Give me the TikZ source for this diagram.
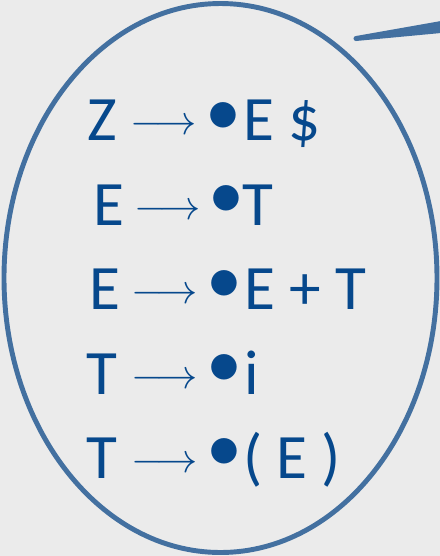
\RequirePackage{fix-cm}
\documentclass[tikz,border=0pt]{standalone}
\usepackage{fontspec}
\setmainfont{Carlito}
\usepackage{tikz}
\definecolor{bggray}{RGB}{235,235,235}
\definecolor{rimblue}{RGB}{67,112,160}
\definecolor{inkblue}{RGB}{6,72,140}
\tikzset{
  sym/.style={anchor=base west,inner sep=0pt,text=inkblue,font=\fontsize{36}{36}\selectfont},
  arw/.style={anchor=base west,inner sep=0pt,text=inkblue,font=\fontsize{23.5}{23.5}\selectfont},
  itemdot/.style={inner sep=0pt,text=inkblue,font=\fontsize{41}{41}\selectfont},
  rim/.style={draw=rimblue,line width=2.8pt}
}

\begin{document}
\begin{tikzpicture}[x=0.02cm,y=-0.02cm]
\fill[bggray] (0,0) rectangle (440,556);
\useasboundingbox (0,0) rectangle (440,556);
% the bubble and its tail
\draw[rim] (220.5,278) ellipse [x radius=216.5, y radius=274.5];
\fill[rimblue] (356,36) -- (441,21) -- (441,33) -- (356,41) -- cycle;
\fill[rimblue] (356,38.5) circle [radius=2.5];
% items
\node[sym] (l1) at (87,140) {Z};   \node[arw] (a1) at (130,134) {$\longrightarrow$};
\node[itemdot] (d1) at (223,119.5) {•}; \node[sym] (r1) at (243,140) {E \$};
\node[sym] (l2) at (93,225) {E};   \node[arw] (a2) at (134,219) {$\longrightarrow$};
\node[itemdot] (d2) at (226,202.5) {•}; \node[sym] (r2) at (242,225) {T};
\node[sym] (l3) at (89,309) {E};   \node[arw] (a3) at (131,303) {$\longrightarrow$};
\node[itemdot] (d3) at (224,287.5) {•}; \node[sym] (r3) at (244,309) {E + T};
\node[sym] (l4) at (86,394) {T};   \node[arw] (a4) at (131,388) {$\longrightarrow$};
\node[itemdot] (d4) at (224,371.5) {•}; \node[sym] (r4) at (244,394) {i};
\node[sym] (l5) at (86,478) {T};   \node[arw] (a5) at (131,472) {$\longrightarrow$};
\node[itemdot] (d5) at (224,455.5) {•}; \node[sym] (r5) at (243,478) {( E )};
\end{tikzpicture}
\end{document}
